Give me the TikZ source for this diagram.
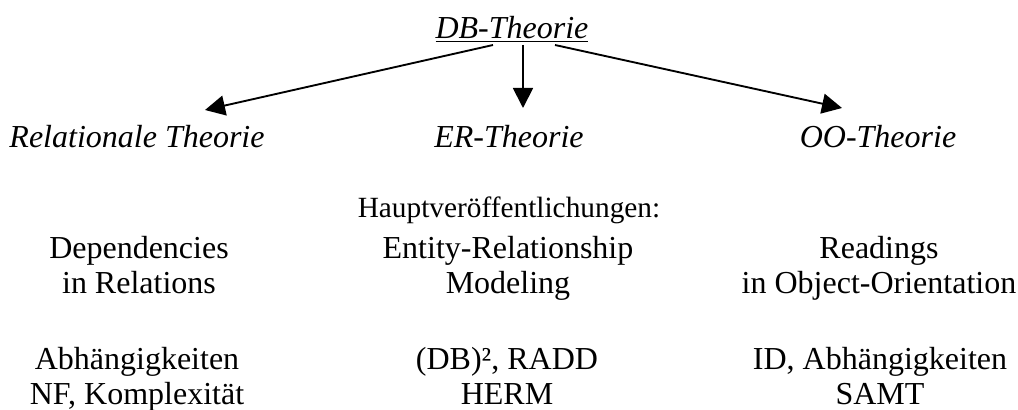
\documentclass[tikz,border=0pt]{standalone}
\usepackage{fontspec}
\setmainfont{Liberation Serif}
\usepackage{tikz}
\usetikzlibrary{arrows.meta,calc}

\begin{document}
\begin{tikzpicture}[
    x=0.75pt, y=-0.75pt,
    theorie/.style={font=\fontsize{24}{26}\selectfont\itshape, inner sep=1pt},
    eintrag/.style={font=\fontsize{24}{26.25}\selectfont, align=center, inner sep=1pt,
      execute at begin node=\strut, execute at end node=\strut},
    klein/.style={font=\fontsize{22}{24}\selectfont, inner sep=1pt},
    pfeil/.style={-{Triangle[length=15pt,width=15pt]}, line width=1.4pt}
  ]
    \useasboundingbox (0,0) rectangle (1018,410);

    \node[theorie] (db) at (512,29) {\underline{DB-Theorie}};
    \node[theorie] (rel) at (137,137) {Relationale Theorie};
    \node[theorie] (er) at (509,137) {ER-Theorie};
    \node[theorie] (oo) at (878,137) {OO-Theorie};

    \node[klein] (haupt) at (509,210) {Hauptveröffentlichungen:};
    \node[eintrag] (dep) at (139,270) {Dependencies\\in Relations};
    \node[eintrag] (erm) at (508,270) {Entity-Relationship\\Modeling};
    \node[eintrag] (oor) at (879,270) {Readings\\in Object-Orientation};

    \node[eintrag] (abh) at (137,381) {Abhängigkeiten\\NF, Komplexität};
    \node[eintrag] (radd) at (507,381) {(DB)², RADD\\HERM};
    \node[eintrag] (samt) at (880,381) {ID, Abhängigkeiten\\SAMT};

    \draw[pfeil] ($(db.center)+(-19,16)$) -- ($(rel.center)+(68,-27)$);
    \draw[pfeil] ($(db.center)+(11,16)$) -- ($(er.center)+(14,-29)$);
    \draw[pfeil] ($(db.center)+(43,16)$) -- ($(oo.center)+(-36,-29)$);
\end{tikzpicture}
\end{document}
